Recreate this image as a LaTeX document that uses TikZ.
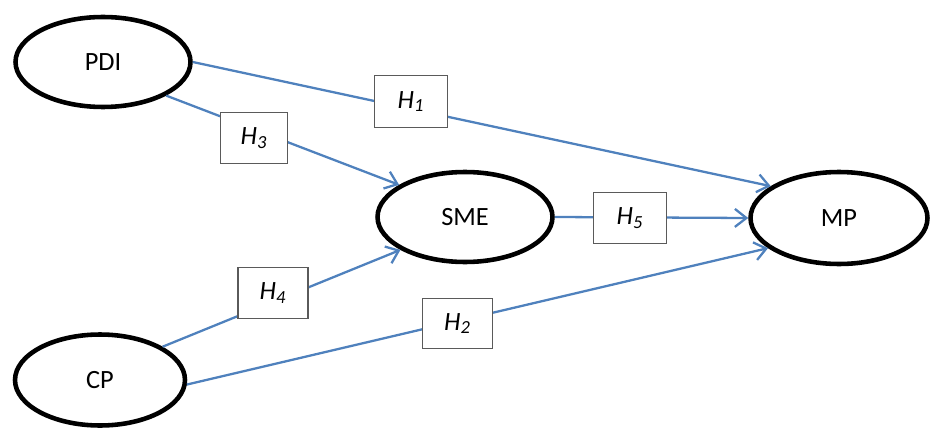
\documentclass[tikz,border=0pt]{standalone}
\usepackage{fontspec}
\setmainfont{Carlito}
\usetikzlibrary{shapes.geometric,arrows.meta}
\definecolor{linkblue}{RGB}{79,129,189}
\definecolor{boxgray}{RGB}{90,90,90}
\tikzset{
  construct/.style={ellipse, draw=black, line width=2.6pt, fill=white, inner sep=0pt, font=\fontsize{15}{18}\selectfont},
  hbox/.style={rectangle, draw=boxgray, line width=0.8pt, fill=white, inner sep=0pt, minimum height=1.02cm, font=\fontsize{15}{18}\selectfont\itshape},
  link/.style={draw=linkblue, line width=1.3pt, -{Straight Barb[length=2.3mm,width=3.6mm,line width=1.3pt]}}
}
\begin{document}
\begin{tikzpicture}[x=0.02cm, y=-0.02cm]
\useasboundingbox (0,0) rectangle (945,432);
% constructs
\node[construct, minimum width=3.50cm, minimum height=1.80cm] (PDI) at (103,62) {PDI};
\node[construct, minimum width=3.40cm, minimum height=1.82cm] (CP) at (100,380) {CP};
\node[construct, minimum width=3.50cm, minimum height=1.80cm] (SME) at (465,217) {SME};
\node[construct, minimum width=3.54cm, minimum height=1.84cm] (MP) at (839,218) {MP};
% paths
\draw[link] (PDI.east) -- (MP.155);
\draw[link] (PDI.-28) -- (SME.154);
\draw[link] (CP.28) -- (SME.207);
\draw[link] (CP.-3) -- (MP.203);
\draw[link] (SME.east) -- (MP.west);
% hypothesis labels
\node[hbox, minimum width=1.46cm, minimum height=1.04cm] (H1) at (411,101.5) {H\textsubscript{1}};
\node[hbox, minimum width=1.34cm] (H3) at (254,138) {H\textsubscript{3}};
\node[hbox, minimum width=1.46cm] (H5) at (630,218) {H\textsubscript{5}};
\node[hbox, minimum width=1.40cm] (H4) at (273,293) {H\textsubscript{4}};
\node[hbox, minimum width=1.40cm, minimum height=1.0cm] (H2) at (457.5,323.5) {H\textsubscript{2}};
\end{tikzpicture}
\end{document}
